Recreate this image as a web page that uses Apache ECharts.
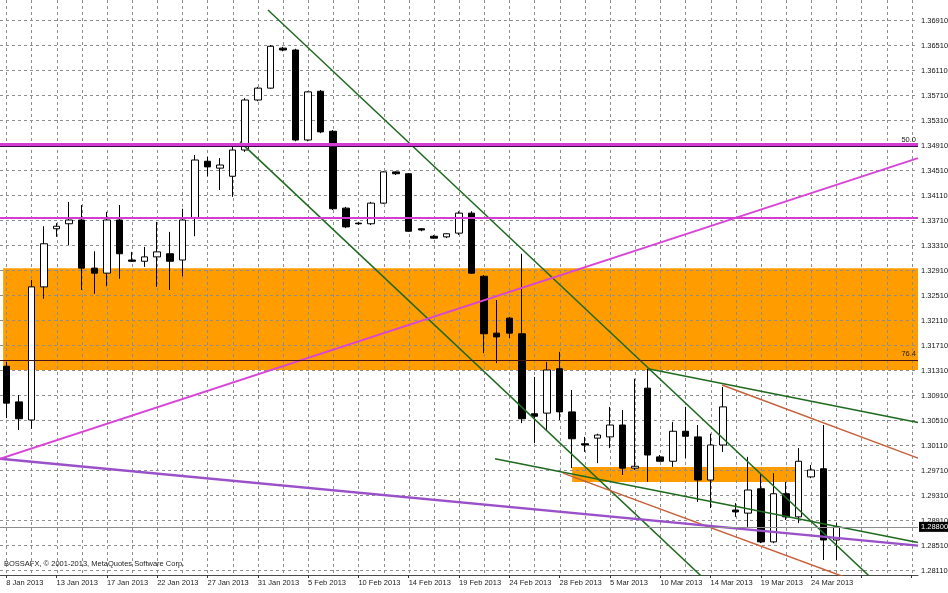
<!DOCTYPE html>
<html>
<head>
<meta charset="utf-8">
<script src="https://cdn.jsdelivr.net/npm/echarts@6/dist/echarts.min.js"></script>
<style>html,body{margin:0;padding:0;background:#fff}#c{width:948px;height:593px}</style>
</head>
<body>
<div id="c"></div>
<script>
// ---- data (EURUSD daily, BOSSAFX) ----
const dates = ['8 Jan 2013','9 Jan 2013','10 Jan 2013','11 Jan 2013','13 Jan 2013','14 Jan 2013','15 Jan 2013','16 Jan 2013','17 Jan 2013','18 Jan 2013',
'20 Jan 2013','21 Jan 2013','22 Jan 2013','23 Jan 2013','24 Jan 2013','25 Jan 2013','27 Jan 2013','28 Jan 2013','29 Jan 2013','30 Jan 2013',
'31 Jan 2013','1 Feb 2013','3 Feb 2013','4 Feb 2013','5 Feb 2013','6 Feb 2013','7 Feb 2013','8 Feb 2013','10 Feb 2013','11 Feb 2013',
'12 Feb 2013','13 Feb 2013','14 Feb 2013','15 Feb 2013','17 Feb 2013','18 Feb 2013','19 Feb 2013','20 Feb 2013','21 Feb 2013','22 Feb 2013',
'24 Feb 2013','25 Feb 2013','26 Feb 2013','27 Feb 2013','28 Feb 2013','1 Mar 2013','3 Mar 2013','4 Mar 2013','5 Mar 2013','6 Mar 2013',
'7 Mar 2013','8 Mar 2013','10 Mar 2013','11 Mar 2013','12 Mar 2013','13 Mar 2013','14 Mar 2013','15 Mar 2013','17 Mar 2013','18 Mar 2013',
'19 Mar 2013','20 Mar 2013','21 Mar 2013','22 Mar 2013','24 Mar 2013','25 Mar 2013','26 Mar 2013'];
const futureSlots = ['','','','','',''];

const opens = [1.3137,1.3080,1.3051,1.3264,1.3357,1.3365,1.3371,1.3294,1.3286,1.3371,
1.3307,1.3305,1.3312,1.3317,1.3307,1.3374,1.3465,1.3454,1.3441,1.3483,
1.3563,1.3582,1.3646,1.3643,1.3499,1.3577,1.3513,1.3390,1.3366,1.3365,
1.3398,1.3448,1.3445,1.3357,1.3345,1.3344,1.3350,1.3382,1.3281,1.3190,
1.3214,1.3189,1.3061,1.3062,1.3133,1.3064,1.3013,1.3022,1.3024,1.3043,
1.2974,1.3102,1.2992,1.2985,1.3033,1.3024,1.2955,1.3011,1.2907,1.2902,
1.2941,1.2856,1.2933,1.2896,1.2960,1.2973,1.2859];
const closes = [1.3078,1.3053,1.3264,1.3333,1.3361,1.3371,1.3294,1.3286,1.3371,1.3317,
1.3305,1.3312,1.3320,1.3305,1.3371,1.3467,1.3456,1.3459,1.3483,1.3563,
1.3582,1.3649,1.3643,1.3499,1.3576,1.3512,1.3389,1.3360,1.3365,1.3398,
1.3448,1.3445,1.3353,1.3355,1.3342,1.3349,1.3382,1.3286,1.3189,1.3184,
1.3190,1.3053,1.3057,1.3131,1.3064,1.3021,1.3011,1.3027,1.3043,1.2974,
1.2977,1.2995,1.2985,1.3033,1.3025,1.2955,1.3011,1.3072,1.2904,1.2939,
1.2856,1.2933,1.2896,1.2985,1.2971,1.2859,1.2880];
const lows = [1.3054,1.3035,1.3037,1.3245,1.3344,1.3331,1.3259,1.3253,1.3265,1.3277,
1.3304,1.3296,1.3264,1.3259,1.3281,1.3345,1.3441,1.3419,1.3408,1.3480,
1.3561,1.3581,1.3641,1.3497,1.3497,1.3510,1.3387,1.3358,1.3363,1.3363,
1.3397,1.3443,1.3352,1.3353,1.3341,1.3342,1.3347,1.3285,1.3158,1.3142,
1.3182,1.3046,1.3014,1.3035,1.3051,1.2974,1.3000,1.2982,1.3006,1.2963,
1.2971,1.2952,1.2984,1.2976,1.2990,1.2920,1.2910,1.3000,1.2896,1.2880,
1.2854,1.2854,1.2891,1.2886,1.2958,1.2827,1.2827];
const highs = [1.3144,1.3091,1.3275,1.3361,1.3366,1.3400,1.3395,1.3321,1.3384,1.3395,
1.3320,1.3328,1.3368,1.3352,1.3389,1.3475,1.3472,1.3470,1.3491,1.3566,
1.3584,1.3651,1.3648,1.3645,1.3577,1.3579,1.3515,1.3392,1.3368,1.3400,
1.3449,1.3449,1.3446,1.3358,1.3347,1.3350,1.3385,1.3385,1.3283,1.3243,
1.3216,1.3317,1.3120,1.3144,1.3160,1.3099,1.3024,1.3029,1.3072,1.3067,
1.3117,1.3133,1.2995,1.3048,1.3072,1.3043,1.3029,1.3104,1.2918,1.2992,
1.2966,1.2966,1.2952,1.3006,1.2979,1.3043,1.2886];

// price axis tick labels
const yTicks = [1.2811,1.2851,1.2891,1.2931,1.2971,1.3011,1.3051,1.3091,1.3131,1.3171,1.3211,1.3251,
1.3291,1.3331,1.3371,1.3411,1.3451,1.3491,1.3531,1.3571,1.3611,1.3651,1.3691];

// drawn objects: [candle index, price]
const greenLines = [
  [[20.81, 1.3707], [69.8, 1.2779]],
  [[18.59, 1.3496], [56.44, 1.2779]],
  [[51.03, 1.3133], [72.5, 1.3047]],
  [[38.86, 1.2989], [72.5, 1.2855]]
];
const redLines = [
  [[56.92, 1.3107], [72.5, 1.2990]],
  [[44.27, 1.2966], [67.57, 1.2793]]
];
const purpleLine = [[-0.5, 1.2989], [72.5, 1.2850]];
const magentaRay = [[-0.5, 1.2989], [72.5, 1.3470]];
const magentaLevels = [1.3374, 1.3493];
const fibLevels = [1.3489, 1.3147];
const fibLabels = ['50.0', '76.4'];
// zones: [fromIndex, topPrice, toIndex, bottomPrice]
const zones = [
  [-0.25, 1.3294, 72.5, 1.3131],
  [45, 1.2976, 63, 1.2952]
];

// ---- chart ----
const FONT = 'Liberation Sans, Arial, sans-serif';
const categories = dates.concat(futureSlots);
const candles = opens.map((o, i) => [o, closes[i], lows[i], highs[i]]);
const lastClose = closes[closes.length - 1];
const X_MIN = -0.5, X_MAX = categories.length - 0.5;
const Y_MIN = 1.2803, Y_MAX = 1.3723;

const vGrid = [];
for (let i = 0; i < categories.length; i += 2) vGrid.push([i, Y_MIN]);
const hGrid = yTicks.map(v => [X_MIN, v]);

const GRID_STYLE = { stroke: '#8e8e8e', lineWidth: 1, lineDash: [3, 3] };

const lineSeries = (pts, color, width, z) => ({
  type: 'line', xAxisIndex: 1, yAxisIndex: 0, data: pts, showSymbol: false,
  symbol: 'none', silent: true, z: z || 4, clip: true,
  lineStyle: { color: color, width: width }
});

const series = [
  {
    name: 'zones', type: 'custom', xAxisIndex: 1, yAxisIndex: 0, z: 0, silent: true,
    data: zones,
    encode: { x: [0, 2], y: [1, 3] },
    renderItem: (params, api) => {
      const a = api.coord([api.value(0), api.value(1)]);
      const b = api.coord([api.value(2), api.value(3)]);
      return {
        type: 'rect',
        shape: { x: Math.min(a[0], b[0]), y: Math.min(a[1], b[1]),
                 width: Math.abs(b[0] - a[0]), height: Math.abs(b[1] - a[1]) },
        style: { fill: '#ff9c00' }
      };
    }
  },
  {
    name: 'hgrid', type: 'custom', xAxisIndex: 1, yAxisIndex: 0, z: 1, silent: true,
    data: hGrid, encode: { x: 0, y: 1 },
    renderItem: (params, api) => {
      const cs = params.coordSys;
      const v = api.value(1);
      const y = Math.round(api.coord([X_MIN, v])[1]) + 0.5;
      return {
        type: 'group',
        children: [
          { type: 'line', shape: { x1: cs.x, y1: y, x2: cs.x + cs.width, y2: y }, style: GRID_STYLE },
          { type: 'text', x: cs.x + cs.width + 3, y: y,
            style: { text: v.toFixed(5), fill: '#111', fontSize: 7.5, fontFamily: FONT,
                     verticalAlign: 'middle', align: 'left' } }
        ]
      };
    }
  },
  {
    name: 'vgrid', type: 'custom', xAxisIndex: 1, yAxisIndex: 0, z: 1, silent: true,
    data: vGrid, encode: { x: 0, y: 1 },
    renderItem: (params, api) => {
      const cs = params.coordSys;
      const x = Math.round(api.coord([api.value(0), Y_MIN])[0]) + 0.5;
      return { type: 'line', shape: { x1: x, y1: cs.y, x2: x, y2: cs.y + cs.height }, style: GRID_STYLE };
    }
  },
  {
    name: 'EURUSD', type: 'candlestick', xAxisIndex: 0, yAxisIndex: 0, z: 3,
    data: candles, barWidth: 7, silent: true,
    itemStyle: { color: '#ffffff', color0: '#000000', borderColor: '#000000', borderColor0: '#000000', borderWidth: 1 }
  }
];
greenLines.forEach(l => series.push(lineSeries(l, '#1f6a1f', 1.5)));
redLines.forEach(l => series.push(lineSeries(l, '#c8603a', 1.5)));
series.push(lineSeries(purpleLine, '#9a50c8', 2.5));
series.push(lineSeries(magentaRay, '#d846d8', 2));
series.push({
  name: 'levels', type: 'line', xAxisIndex: 1, data: [], silent: true,
  markLine: {
    z: 5, silent: true, symbol: 'none', animation: false, precision: 6,
    label: { show: false },
    data: [
      { yAxis: magentaLevels[0], lineStyle: { color: '#d23cd2', width: 2, type: 'solid' } },
      { yAxis: magentaLevels[1], lineStyle: { color: '#d23cd2', width: 3, type: 'solid' } },
      { yAxis: fibLevels[0], lineStyle: { color: '#3c0a46', width: 1, type: 'solid' },
        label: { show: true, position: 'insideEndTop', formatter: fibLabels[0], fontSize: 7.5, color: '#222', fontFamily: FONT, distance: 2 } },
      { yAxis: fibLevels[1], lineStyle: { color: '#4a1414', width: 1, type: 'solid' },
        label: { show: true, position: 'insideEndTop', formatter: fibLabels[1], fontSize: 7.5, color: '#222', fontFamily: FONT, distance: 2 } },
      { yAxis: lastClose, lineStyle: { color: '#8c8c8c', width: 1, type: 'solid' },
        label: { show: true, position: 'end', distance: 1, formatter: lastClose.toFixed(5),
                 backgroundColor: '#000', color: '#fff', fontSize: 7.5, padding: [1, 2, 1, 2], fontFamily: FONT } }
    ]
  }
});

const chart = echarts.init(document.getElementById('c'), null, { renderer: 'canvas' });
chart.setOption({
  animation: false,
  backgroundColor: '#ffffff',
  grid: { left: 0, right: 30, top: 0, bottom: 18, containLabel: false },
  xAxis: [
    {
      type: 'category', data: categories, boundaryGap: true, z: 1,
      axisLine: { show: true, lineStyle: { color: '#4a4a4a', width: 1 } },
      axisTick: { show: true, interval: 3, alignWithLabel: true, length: 3, lineStyle: { color: '#333' } },
      axisLabel: { interval: 3, align: 'left', fontSize: 7.5, color: '#222', margin: 4, fontFamily: FONT },
      splitLine: { show: false }
    },
    { type: 'value', min: X_MIN, max: X_MAX, show: false, splitLine: { show: false } }
  ],
  yAxis: [
    { type: 'value', min: Y_MIN, max: Y_MAX, show: false, splitLine: { show: false } }
  ],
  graphic: [{
    type: 'text', left: 4, top: 560, z: 10,
    style: { text: 'BOSSAFX, © 2001-2013, MetaQuotes Software Corp.', fontSize: 7.5, fill: '#222', fontFamily: FONT }
  }],
  series: series
});
</script>
</body>
</html>
